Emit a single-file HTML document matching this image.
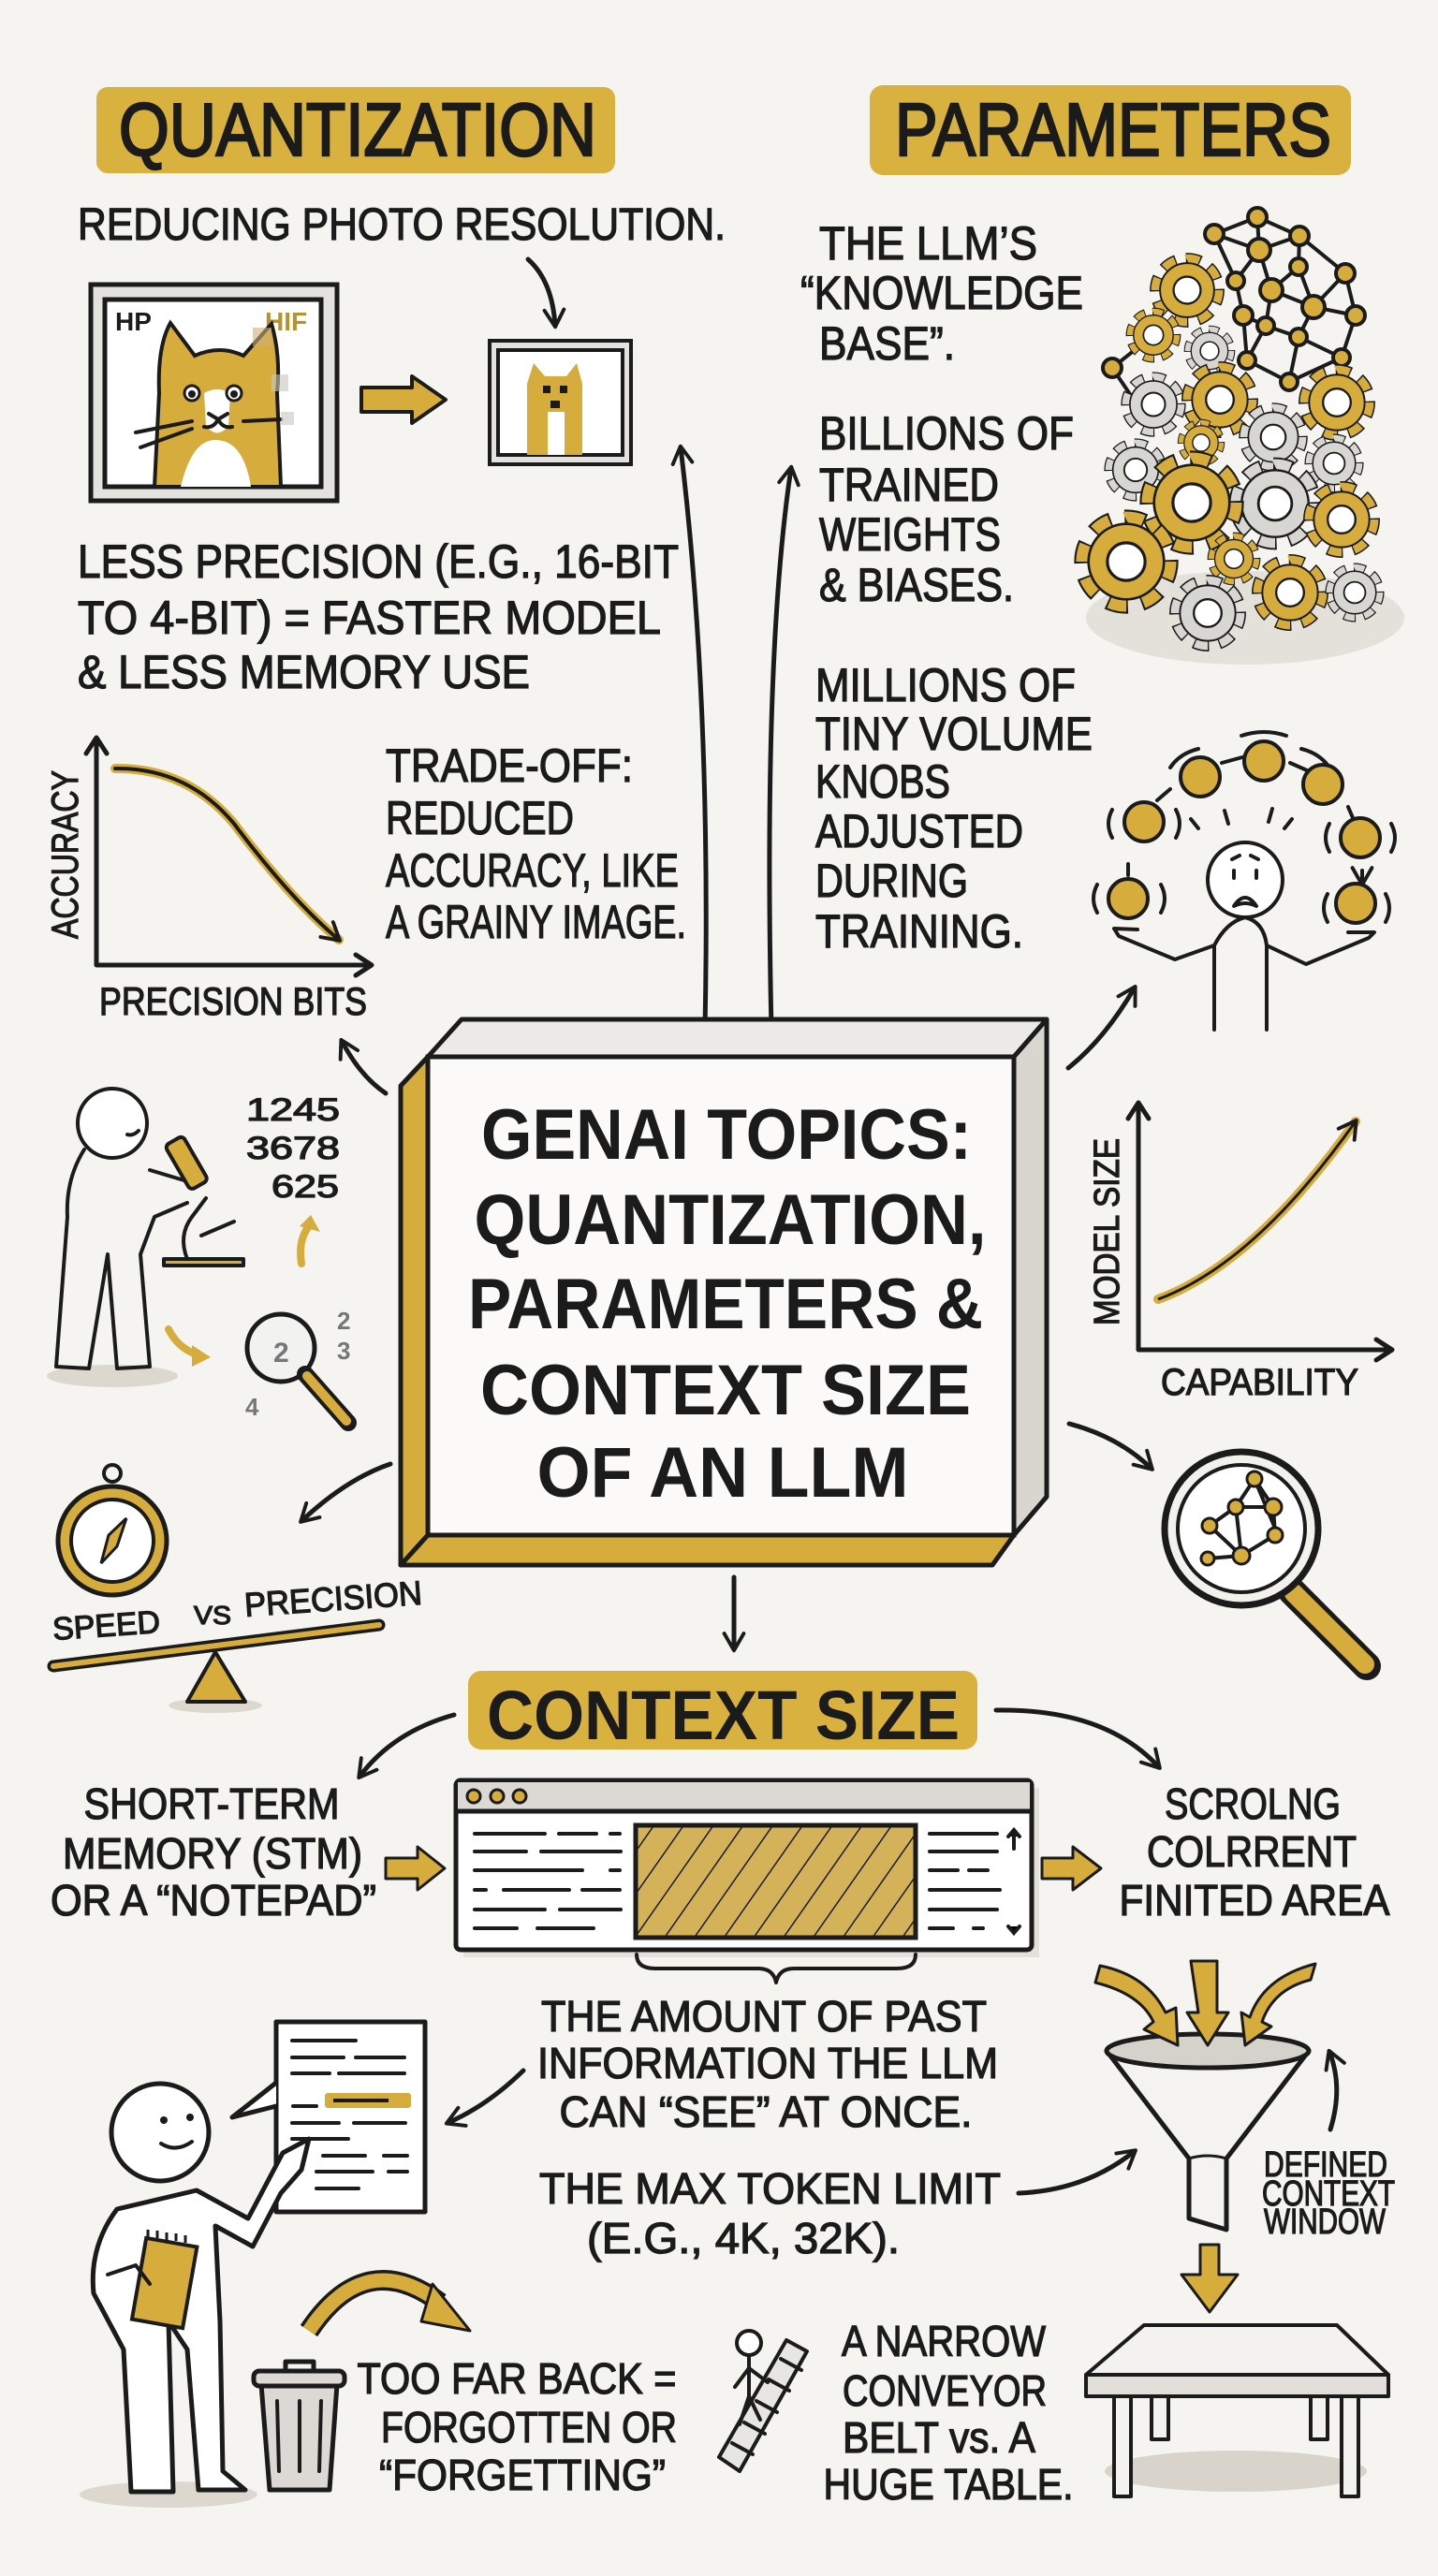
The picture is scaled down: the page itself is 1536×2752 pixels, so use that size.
<!DOCTYPE html>
<html><head><meta charset="utf-8">
<style>
html,body{margin:0;padding:0;background:#f5f4f1;}
svg{display:block}
.t{font-family:"Liberation Sans Narrow","Liberation Sans",sans-serif;font-weight:normal;fill:#1b1b1b;stroke:#1b1b1b;stroke-width:1.3px;}
.h{font-family:"Liberation Sans",sans-serif;font-weight:bold;fill:#1b1b1b;}
.k{fill:none;stroke:#1b1b1b;stroke-width:5;stroke-linecap:round;stroke-linejoin:round}
.k4{fill:none;stroke:#1b1b1b;stroke-width:4;stroke-linecap:round;stroke-linejoin:round}
</style></head>
<body>
<svg width="1536" height="2752" viewBox="0 0 1536 2752" xmlns="http://www.w3.org/2000/svg">
<defs>
<marker id="a" viewBox="0 0 20 20" refX="16" refY="10" markerWidth="26" markerHeight="26" orient="auto" markerUnits="userSpaceOnUse">
<path d="M3,2 L17,10 L3,18" fill="none" stroke="#1b1b1b" stroke-width="3" stroke-linecap="round" stroke-linejoin="round"/>
</marker>
<pattern id="hatch" patternUnits="userSpaceOnUse" width="26" height="26" patternTransform="rotate(35)">
<rect width="26" height="26" fill="#d4b25a"/>
<line x1="0" y1="0" x2="0" y2="26" stroke="#1b1b1b" stroke-width="3"/>
</pattern>
<g id="gearG">
<circle r="85" fill="none" stroke="#1b1b1b" stroke-width="40" pathLength="160" stroke-dasharray="12 8" stroke-dashoffset="1"/>
<circle r="85" fill="none" stroke="#d6ad3c" stroke-width="32" pathLength="160" stroke-dasharray="10 10"/>
<circle r="76" fill="#d6ad3c" stroke="#1b1b1b" stroke-width="5"/>
<circle r="38" fill="#fff" stroke="#1b1b1b" stroke-width="6"/>
</g>
<g id="gearS">
<circle r="85" fill="none" stroke="#1b1b1b" stroke-width="40" pathLength="160" stroke-dasharray="12 8" stroke-dashoffset="1"/>
<circle r="85" fill="none" stroke="#d8d6d2" stroke-width="32" pathLength="160" stroke-dasharray="10 10"/>
<circle r="76" fill="#d8d6d2" stroke="#1b1b1b" stroke-width="5"/>
<circle r="38" fill="#fff" stroke="#1b1b1b" stroke-width="6"/>
</g>
</defs>

<rect x="103" y="93" width="554" height="92" rx="12" fill="#d9b13f"/>
<text class="t" x="127" y="166" font-size="80" textLength="510" lengthAdjust="spacingAndGlyphs" style="stroke-width:2.5px">QUANTIZATION</text>
<rect x="929" y="91" width="514" height="96" rx="14" fill="#d9b13f"/>
<text class="t" x="956" y="166" font-size="80" textLength="466" lengthAdjust="spacingAndGlyphs" style="stroke-width:2.5px">PARAMETERS</text>

<text class="t" x="83" y="256" font-size="48" textLength="692" lengthAdjust="spacingAndGlyphs">REDUCING PHOTO RESOLUTION.</text>
<path class="k" d="M564,277 Q590,300 593,348" marker-end="url(#a)"/>

<rect x="97" y="304" width="263" height="231" fill="#e4e2de" stroke="#1b1b1b" stroke-width="5"/>
<rect x="112" y="320" width="231" height="200" fill="#fff" stroke="#1b1b1b" stroke-width="5"/>
<text class="h" x="123" y="353" font-size="28">HP</text>
<text class="h" x="283" y="353" font-size="28" style="fill:#b8922c">HIF</text>
<path d="M165,520 L170,420 Q168,370 182,345 L208,380 Q235,368 260,380 L290,346 Q300,380 296,420 L300,520 Z" fill="#d6ad3c" stroke="#1b1b1b" stroke-width="4"/>
<path d="M193,520 Q205,470 230,470 Q260,470 268,520 Z" fill="#fff"/>
<path d="M218,420 Q232,412 246,420 L244,455 Q232,470 220,455 Z" fill="#fff"/>
<circle cx="205" cy="420" r="8" fill="#fff" stroke="#1b1b1b" stroke-width="3"/>
<circle cx="250" cy="420" r="8" fill="#fff" stroke="#1b1b1b" stroke-width="3"/>
<circle cx="205" cy="421" r="4" fill="#1b1b1b"/><circle cx="250" cy="421" r="4" fill="#1b1b1b"/>
<path class="k4" d="M223,442 L233,448 L243,442 M233,448 Q228,458 218,456 M233,448 Q238,458 248,456"/>
<path class="k4" d="M145,462 L205,450 M150,478 L205,458 M260,450 L300,448"/>
<rect x="270" y="350" width="20" height="20" fill="#cbb07a" opacity=".6"/>
<rect x="290" y="400" width="18" height="18" fill="#c9c6c0" opacity=".6"/>
<rect x="300" y="440" width="14" height="14" fill="#c9c6c0" opacity=".6"/>
<path d="M386,414 L440,414 L440,402 L476,427 L440,452 L440,440 L386,440 Z" fill="#d6ad3c" stroke="#1b1b1b" stroke-width="4" stroke-linejoin="round"/>
<rect x="523" y="364" width="151" height="132" fill="#e4e2de" stroke="#1b1b1b" stroke-width="4"/>
<rect x="532" y="374" width="133" height="112" fill="#fff" stroke="#1b1b1b" stroke-width="4"/>
<path d="M563,486 L563,410 L570,388 L582,402 L605,402 L616,388 L622,410 L622,486 Z" fill="#d6ad3c"/>
<rect x="580" y="412" width="8" height="8" fill="#1b1b1b"/><rect x="598" y="412" width="8" height="8" fill="#1b1b1b"/>
<rect x="585" y="440" width="18" height="46" fill="#fff"/>
<rect x="588" y="428" width="10" height="8" fill="#1b1b1b"/>

<text class="t" x="83" y="617" font-size="50" textLength="642" lengthAdjust="spacingAndGlyphs">LESS PRECISION (E.G., 16-BIT</text>
<text class="t" x="83" y="677" font-size="50" textLength="623" lengthAdjust="spacingAndGlyphs">TO 4-BIT) = FASTER MODEL</text>
<text class="t" x="83" y="735" font-size="50" textLength="483" lengthAdjust="spacingAndGlyphs">&amp; LESS MEMORY USE</text>

<path class="k" d="M103,1031 L103,790 M92,805 L103,788 L114,805 M103,1031 L395,1031 M380,1020 L397,1031 L380,1042"/>
<path d="M123,821 Q200,820 250,880 Q310,960 362,1004" fill="none" stroke="#d6ad3c" stroke-width="10" stroke-linecap="round"/>
<path d="M123,821 Q200,820 250,880 Q310,960 362,1004" fill="none" stroke="#1b1b1b" stroke-width="4" stroke-linecap="round" marker-end="url(#a)"/>
<text class="t" x="0" y="0" font-size="40" textLength="180" lengthAdjust="spacingAndGlyphs" transform="translate(83,1003) rotate(-90)">ACCURACY</text>
<text class="t" x="106" y="1084" font-size="42" textLength="286" lengthAdjust="spacingAndGlyphs">PRECISION BITS</text>

<text class="t" x="412" y="835" font-size="50" textLength="264" lengthAdjust="spacingAndGlyphs">TRADE-OFF:</text>
<text class="t" x="412" y="891" font-size="50" textLength="201" lengthAdjust="spacingAndGlyphs">REDUCED</text>
<text class="t" x="412" y="947" font-size="50" textLength="313" lengthAdjust="spacingAndGlyphs">ACCURACY, LIKE</text>
<text class="t" x="412" y="1002" font-size="50" textLength="321" lengthAdjust="spacingAndGlyphs">A GRAINY IMAGE.</text>

<path class="k" d="M753,1100 Q760,750 727,478" marker-end="url(#a)"/>
<path class="k" d="M824,1100 Q815,700 845,500" marker-end="url(#a)"/>

<text class="t" x="875" y="277" font-size="50" textLength="233" lengthAdjust="spacingAndGlyphs">THE LLM’S</text>
<text class="t" x="855" y="330" font-size="50" textLength="302" lengthAdjust="spacingAndGlyphs">“KNOWLEDGE</text>
<text class="t" x="875" y="384" font-size="50" textLength="145" lengthAdjust="spacingAndGlyphs">BASE”.</text>
<text class="t" x="875" y="480" font-size="50" textLength="272" lengthAdjust="spacingAndGlyphs">BILLIONS OF</text>
<text class="t" x="875" y="535" font-size="50" textLength="192" lengthAdjust="spacingAndGlyphs">TRAINED</text>
<text class="t" x="875" y="588" font-size="50" textLength="194" lengthAdjust="spacingAndGlyphs">WEIGHTS</text>
<text class="t" x="875" y="642" font-size="50" textLength="208" lengthAdjust="spacingAndGlyphs">&amp; BIASES.</text>
<text class="t" x="871" y="749" font-size="50" textLength="278" lengthAdjust="spacingAndGlyphs">MILLIONS OF</text>
<text class="t" x="871" y="801" font-size="50" textLength="296" lengthAdjust="spacingAndGlyphs">TINY VOLUME</text>
<text class="t" x="871" y="852" font-size="50" textLength="144" lengthAdjust="spacingAndGlyphs">KNOBS</text>
<text class="t" x="871" y="905" font-size="50" textLength="222" lengthAdjust="spacingAndGlyphs">ADJUSTED</text>
<text class="t" x="871" y="958" font-size="50" textLength="163" lengthAdjust="spacingAndGlyphs">DURING</text>
<text class="t" x="871" y="1012" font-size="50" textLength="222" lengthAdjust="spacingAndGlyphs">TRAINING.</text>

<ellipse cx="1330" cy="660" rx="170" ry="50" fill="#dcd8d0" opacity=".7"/>
<g stroke="#1b1b1b" stroke-width="4" fill="none">
<path d="M1343,232 L1297,250 L1345,267 L1343,232 L1388,252 L1345,267 L1320,300 L1297,250 M1345,267 L1358,310 L1387,285 L1388,252 L1437,292 L1403,328 L1387,285 M1358,310 L1403,328 L1448,337 L1437,292 M1320,300 L1328,337 L1352,348 L1358,310 M1352,348 L1387,360 L1403,328 M1387,360 L1433,382 L1448,337 M1328,337 L1332,385 L1377,408 L1433,382 M1352,348 L1332,385 M1387,360 L1377,408 M1188,393 L1232,358 M1188,393 L1213,430"/>
</g>
<g fill="#d6ad3c" stroke="#1b1b1b" stroke-width="4">
<circle cx="1343" cy="232" r="10"/><circle cx="1297" cy="250" r="10"/><circle cx="1345" cy="267" r="12"/><circle cx="1388" cy="252" r="10"/><circle cx="1320" cy="300" r="9"/><circle cx="1358" cy="310" r="12"/><circle cx="1387" cy="285" r="9"/><circle cx="1437" cy="292" r="10"/><circle cx="1403" cy="328" r="12"/><circle cx="1448" cy="337" r="10"/><circle cx="1328" cy="337" r="10"/><circle cx="1352" cy="348" r="9"/><circle cx="1387" cy="360" r="9"/><circle cx="1433" cy="382" r="9"/><circle cx="1332" cy="385" r="9"/><circle cx="1377" cy="408" r="9"/><circle cx="1188" cy="393" r="10"/>
</g>
<use href="#gearG" transform="translate(1268,310) scale(.38)"/>
<use href="#gearG" transform="translate(1232,358) scale(.28)"/>
<use href="#gearS" transform="translate(1292,375) scale(.26)"/>
<use href="#gearS" transform="translate(1232,432) scale(.33)"/>
<use href="#gearG" transform="translate(1303,427) scale(.39)"/>
<use href="#gearG" transform="translate(1428,430) scale(.39)"/>
<use href="#gearS" transform="translate(1360,467) scale(.35)"/>
<use href="#gearG" transform="translate(1283,473) scale(.24)"/>
<use href="#gearS" transform="translate(1213,502) scale(.32)"/>
<use href="#gearS" transform="translate(1425,495) scale(.30)"/>
<use href="#gearS" transform="translate(1362,538) scale(.47)"/>
<use href="#gearG" transform="translate(1273,537) scale(.53)"/>
<use href="#gearG" transform="translate(1433,555) scale(.39)"/>
<use href="#gearG" transform="translate(1318,597) scale(.27)"/>
<use href="#gearG" transform="translate(1203,600) scale(.53)"/>
<use href="#gearS" transform="translate(1290,655) scale(.39)"/>
<use href="#gearG" transform="translate(1378,633) scale(.39)"/>
<use href="#gearS" transform="translate(1447,633) scale(.30)"/>

<g class="k4">
<circle cx="1330" cy="940" r="40" fill="#fff"/>
<path d="M1318,930 l0,8 M1342,930 l0,8 M1316,918 l8,-4 M1344,918 l-8,-4"/>
<path d="M1318,968 Q1330,950 1342,968 Q1330,962 1318,968 Z"/>
<path d="M1297,1100 L1297,1010 L1255,1025 L1195,1000 L1190,992 L1215,993 M1353,1100 L1353,1010 L1395,1030 L1462,1002 L1468,996 L1440,996"/>
<path d="M1297,1010 Q1310,985 1330,980 Q1350,985 1353,1010"/>
<path d="M1280,885 l-8,-10 M1372,885 l8,-10 M1312,880 l-4,-14 M1355,878 l4,-14"/>
<path d="M1205,935 l0,-12 M1236,855 l14,-12 M1305,815 l22,-6 M1378,815 l18,8 M1440,862 l6,14 M1455,930 l0,14" marker-end="url(#a)"/>
<path d="M1172,945 q-8,15 0,30 M1240,945 q8,15 0,30 M1418,955 q-8,15 0,30 M1480,955 q8,15 0,30 M1326,786 q24,-8 48,0 M1390,800 q20,5 30,20 M1188,865 q-8,15 0,30 M1256,865 q8,15 0,30 M1250,820 q10,-15 30,-20 M1420,880 q-8,15 0,30 M1486,880 q8,15 0,30"/>
</g>
<g fill="#d6ad3c" stroke="#1b1b1b" stroke-width="4">
<circle cx="1205" cy="960" r="21"/><circle cx="1222" cy="878" r="21"/><circle cx="1282" cy="830" r="21"/><circle cx="1350" cy="813" r="21"/><circle cx="1413" cy="838" r="21"/><circle cx="1453" cy="895" r="21"/><circle cx="1448" cy="965" r="21"/>
</g>
<path class="k" d="M1141,1141 Q1180,1110 1212,1055" marker-end="url(#a)"/>

<polygon points="457,1129 493,1089 1118,1089 1083,1129" fill="#eceae6" stroke="#1b1b1b" stroke-width="5" stroke-linejoin="round"/>
<polygon points="1083,1129 1118,1089 1118,1599 1083,1640" fill="#d9d6d0" stroke="#1b1b1b" stroke-width="5" stroke-linejoin="round"/>
<polygon points="457,1129 428,1160 428,1672 457,1640" fill="#d6ad3c" stroke="#1b1b1b" stroke-width="5" stroke-linejoin="round"/>
<polygon points="457,1640 428,1672 1060,1672 1083,1640" fill="#d6ad3c" stroke="#1b1b1b" stroke-width="5" stroke-linejoin="round"/>
<rect x="457" y="1129" width="626" height="511" fill="#fbfaf8" stroke="#1b1b1b" stroke-width="5"/>
<text class="h" x="776" y="1238" font-size="76" text-anchor="middle" textLength="524" lengthAdjust="spacingAndGlyphs">GENAI TOPICS:</text>
<text class="h" x="780" y="1329" font-size="76" text-anchor="middle" textLength="547" lengthAdjust="spacingAndGlyphs">QUANTIZATION,</text>
<text class="h" x="775" y="1419" font-size="76" text-anchor="middle" textLength="550" lengthAdjust="spacingAndGlyphs">PARAMETERS &amp;</text>
<text class="h" x="775" y="1511" font-size="76" text-anchor="middle" textLength="524" lengthAdjust="spacingAndGlyphs">CONTEXT SIZE</text>
<text class="h" x="772" y="1599" font-size="76" text-anchor="middle" textLength="397" lengthAdjust="spacingAndGlyphs">OF AN LLM</text>

<path class="k" d="M412,1168 Q385,1150 365,1112" marker-end="url(#a)"/>
<g class="k4">
<ellipse cx="120" cy="1470" rx="70" ry="12" fill="#dcd8d0" stroke="none"/>
<circle cx="120" cy="1200" r="37" fill="#fff"/>
<path d="M148,1208 q-6,6 -12,4"/>
<path d="M90,1228 Q70,1260 72,1300 L60,1460 L95,1462 L115,1340 L125,1462 L160,1460 L150,1340 L165,1300 L200,1285"/>
<path d="M160,1250 L200,1262"/>
<path d="M175,1345 L260,1345 L260,1352 L175,1352 Z" fill="#d6ad3c"/>
<path d="M200,1345 Q190,1320 205,1300 L220,1280" />
<rect x="188" y="1215" width="22" height="55" rx="5" fill="#d6ad3c" transform="rotate(-30 199 1242)"/>
<path d="M215,1320 L250,1305"/>
</g>
<text class="t" x="263" y="1197" font-size="34" textLength="100" lengthAdjust="spacingAndGlyphs">1245</text>
<text class="t" x="263" y="1238" font-size="34" textLength="100" lengthAdjust="spacingAndGlyphs">3678</text>
<text class="t" x="290" y="1279" font-size="34" textLength="72" lengthAdjust="spacingAndGlyphs">625</text>
<path d="M322,1350 Q318,1325 330,1310" fill="none" stroke="#d6ad3c" stroke-width="8" stroke-linecap="round"/>
<path d="M320,1310 L332,1298 L342,1316 Z" fill="#d6ad3c"/>
<path d="M180,1420 Q190,1440 210,1447" fill="none" stroke="#d6ad3c" stroke-width="8" stroke-linecap="round"/>
<path d="M205,1437 L225,1450 L205,1460 Z" fill="#d6ad3c"/>
<circle cx="300" cy="1440" r="36" fill="#f2f2f0" stroke="#1b1b1b" stroke-width="5"/>
<path d="M326,1468 L372,1520" stroke="#1b1b1b" stroke-width="18" stroke-linecap="round"/>
<path d="M328,1470 L370,1518" stroke="#d6ad3c" stroke-width="10" stroke-linecap="round"/>
<text class="h" x="292" y="1455" font-size="30" style="fill:#777">2</text>
<text class="h" x="360" y="1420" font-size="26" style="fill:#777">2</text>
<text class="h" x="360" y="1452" font-size="26" style="fill:#777">3</text>
<text class="h" x="262" y="1512" font-size="26" style="fill:#777">4</text>

<path class="k" d="M417,1564 Q370,1580 322,1625" marker-end="url(#a)"/>
<circle cx="120" cy="1574" r="9" fill="none" stroke="#1b1b1b" stroke-width="4"/>
<circle cx="120" cy="1646" r="58" fill="#d6ad3c" stroke="#1b1b1b" stroke-width="5"/>
<circle cx="120" cy="1646" r="44" fill="#fff" stroke="#1b1b1b" stroke-width="4"/>
<path d="M135,1622 L125,1652 L108,1670 L116,1640 Z" fill="#d6ad3c" stroke="#1b1b1b" stroke-width="3"/>
<text class="t" x="57" y="1752" font-size="34" textLength="115" lengthAdjust="spacingAndGlyphs" transform="rotate(-4 57 1752)">SPEED</text>
<text class="t" x="207" y="1735" font-size="28" textLength="40" lengthAdjust="spacingAndGlyphs">VS</text>
<text class="t" x="262" y="1727" font-size="36" textLength="190" lengthAdjust="spacingAndGlyphs" transform="rotate(-4 262 1727)">PRECISION</text>
<path d="M57,1780 L405,1736" stroke="#1b1b1b" stroke-width="13" stroke-linecap="round"/>
<path d="M57,1780 L405,1736" stroke="#d6ad3c" stroke-width="6" stroke-linecap="round"/>
<ellipse cx="230" cy="1822" rx="50" ry="8" fill="#dcd8d0"/>
<polygon points="230,1765 200,1818 262,1818" fill="#d6ad3c" stroke="#1b1b1b" stroke-width="4" stroke-linejoin="round"/>

<path class="k" d="M1216,1442 L1216,1180 M1205,1195 L1216,1178 L1227,1195 M1216,1442 L1485,1442 M1470,1431 L1487,1442 L1470,1453"/>
<path d="M1237,1388 Q1340,1350 1448,1198" fill="none" stroke="#d6ad3c" stroke-width="10" stroke-linecap="round"/>
<path d="M1237,1388 Q1340,1350 1448,1198" fill="none" stroke="#1b1b1b" stroke-width="3" marker-end="url(#a)"/>
<text class="t" x="0" y="0" font-size="38" textLength="200" lengthAdjust="spacingAndGlyphs" transform="translate(1195,1416) rotate(-90)">MODEL SIZE</text>
<text class="t" x="1240" y="1490" font-size="40" textLength="211" lengthAdjust="spacingAndGlyphs">CAPABILITY</text>
<path class="k" d="M1142,1521 Q1195,1535 1230,1569" marker-end="url(#a)"/>
<path d="M1380,1700 L1460,1780" stroke="#1b1b1b" stroke-width="30" stroke-linecap="round"/>
<path d="M1382,1702 L1458,1778" stroke="#d6ad3c" stroke-width="20" stroke-linecap="round"/>
<circle cx="1326" cy="1633" r="82" fill="#f2f1ee" stroke="#1b1b1b" stroke-width="7"/>
<circle cx="1326" cy="1633" r="68" fill="#fff" stroke="#1b1b1b" stroke-width="4"/>
<path class="k4" d="M1292,1630 L1320,1610 L1340,1580 L1360,1610 L1320,1610 L1326,1662 L1362,1640 L1360,1610 M1292,1630 L1326,1662 L1290,1665 M1340,1580 L1365,1640"/>
<g fill="#d6ad3c" stroke="#1b1b1b" stroke-width="3"><circle cx="1292" cy="1630" r="8"/><circle cx="1320" cy="1610" r="8"/><circle cx="1340" cy="1580" r="8"/><circle cx="1360" cy="1610" r="9"/><circle cx="1326" cy="1662" r="9"/><circle cx="1362" cy="1640" r="8"/><circle cx="1290" cy="1665" r="7"/></g>

<path class="k" d="M784,1685 L784,1762" marker-end="url(#a)"/>
<rect x="500" y="1785" width="544" height="84" rx="14" fill="#d9b13f"/>
<text class="h" x="520" y="1858" font-size="74" textLength="505" lengthAdjust="spacingAndGlyphs">CONTEXT SIZE</text>
<path class="k" d="M485,1832 Q420,1850 384,1898" marker-end="url(#a)"/>
<path class="k" d="M1064,1827 Q1180,1825 1238,1888" marker-end="url(#a)"/>

<text class="t" x="226" y="1943" font-size="46" text-anchor="middle" textLength="273" lengthAdjust="spacingAndGlyphs">SHORT-TERM</text>
<text class="t" x="227" y="1996" font-size="46" text-anchor="middle" textLength="320" lengthAdjust="spacingAndGlyphs">MEMORY (STM)</text>
<text class="t" x="228" y="2046" font-size="46" text-anchor="middle" textLength="348" lengthAdjust="spacingAndGlyphs">OR A “NOTEPAD”</text>
<path d="M412,1985 L446,1985 L446,1973 L475,1996 L446,2019 L446,2007 L412,2007 Z" fill="#d6ad3c" stroke="#1b1b1b" stroke-width="3" stroke-linejoin="round"/>

<rect x="495" y="1910" width="615" height="181" fill="#dcd8d0" opacity=".7"/>
<rect x="487" y="1902" width="615" height="181" rx="5" fill="#fff" stroke="#1b1b1b" stroke-width="5"/>
<rect x="489" y="1904" width="611" height="31" fill="#dcd9d4"/>
<line x1="487" y1="1935" x2="1102" y2="1935" stroke="#1b1b1b" stroke-width="5"/>
<g fill="#d6ad3c" stroke="#1b1b1b" stroke-width="3"><circle cx="506" cy="1919" r="7"/><circle cx="531" cy="1919" r="7"/><circle cx="555" cy="1919" r="7"/></g>
<rect x="679" y="1950" width="299" height="120" fill="url(#hatch)" stroke="#1b1b1b" stroke-width="5"/>
<g stroke="#1b1b1b" stroke-width="4" stroke-linecap="round">
<path d="M507,1959 h75 M597,1959 h40 M652,1959 h10 M507,1978 h55 M578,1978 h85 M507,1998 h115 M652,1998 h10 M507,2019 h12 M538,2019 h70 M622,2019 h40 M507,2040 h75 M598,2040 h65 M507,2060 h45 M574,2060 h60"/>
<path d="M993,1959 h72 M993,1978 h72 M993,1998 h30 M1035,1998 h20 M993,2019 h75 M993,2040 h72 M993,2060 h25 M1040,2060 h10"/>
<path d="M1083,1975 v-20 M1077,1962 l6,-7 l6,7 M1077,2058 l6,7 l6,-7"/>
</g>
<path d="M1113,1985 L1146,1985 L1146,1973 L1176,1996 L1146,2019 L1146,2007 L1113,2007 Z" fill="#d6ad3c" stroke="#1b1b1b" stroke-width="3" stroke-linejoin="round"/>
<path class="k4" d="M680,2088 Q680,2103 700,2103 L810,2103 Q826,2103 829,2118 Q832,2103 848,2103 L958,2103 Q978,2103 978,2088"/>

<text class="t" x="1338" y="1943" font-size="46" text-anchor="middle" textLength="188" lengthAdjust="spacingAndGlyphs">SCROLNG</text>
<text class="t" x="1337" y="1994" font-size="46" text-anchor="middle" textLength="224" lengthAdjust="spacingAndGlyphs">COLRRENT</text>
<text class="t" x="1340" y="2046" font-size="46" text-anchor="middle" textLength="289" lengthAdjust="spacingAndGlyphs">FINITED AREA</text>

<text class="t" x="816" y="2170" font-size="46" text-anchor="middle" textLength="476" lengthAdjust="spacingAndGlyphs">THE AMOUNT OF PAST</text>
<text class="t" x="820" y="2220" font-size="46" text-anchor="middle" textLength="492" lengthAdjust="spacingAndGlyphs">INFORMATION THE LLM</text>
<text class="t" x="818" y="2272" font-size="46" text-anchor="middle" textLength="441" lengthAdjust="spacingAndGlyphs">CAN “SEE” AT ONCE.</text>
<text class="t" x="576" y="2354" font-size="46" textLength="493" lengthAdjust="spacingAndGlyphs">THE MAX TOKEN LIMIT</text>
<text class="t" x="627" y="2407" font-size="46" textLength="334" lengthAdjust="spacingAndGlyphs">(E.G., 4K, 32K).</text>
<path class="k" d="M559,2212 Q520,2250 478,2268" marker-end="url(#a)"/>
<path class="k" d="M1088,2343 Q1160,2340 1212,2298" marker-end="url(#a)"/>

<path d="M1182,2191 L1270,2306 L1270,2370 L1310,2382 L1310,2306 L1398,2191 Z" fill="#f4f3f0" stroke="#1b1b1b" stroke-width="5" stroke-linejoin="round"/>
<ellipse cx="1290" cy="2191" rx="108" ry="18" fill="#d5d2cc" stroke="#1b1b1b" stroke-width="5"/>
<path d="M1270,2306 Q1290,2300 1310,2306" fill="none" stroke="#1b1b1b" stroke-width="3"/>
<g fill="#d6ad3c" stroke="#1b1b1b" stroke-width="3" stroke-linejoin="round">
<path d="M1175,2100 Q1225,2110 1245,2150 L1256,2145 L1258,2185 L1222,2168 L1232,2160 Q1218,2130 1170,2118 Z"/>
<path d="M1272,2095 L1300,2095 L1300,2150 L1312,2150 L1290,2185 L1268,2150 L1280,2150 Z"/>
<path d="M1400,2115 Q1360,2125 1348,2160 L1358,2165 L1330,2185 L1326,2150 L1335,2155 Q1350,2112 1405,2098 Z"/>
</g>
<path class="k" d="M1421,2275 Q1435,2230 1420,2192" marker-end="url(#a)"/>
<text class="t" x="1350" y="2325" font-size="38" textLength="132" lengthAdjust="spacingAndGlyphs">DEFINED</text>
<text class="t" x="1348" y="2356" font-size="38" textLength="142" lengthAdjust="spacingAndGlyphs">CONTEXT</text>
<text class="t" x="1350" y="2386" font-size="38" textLength="130" lengthAdjust="spacingAndGlyphs">WINDOW</text>
<path d="M1282,2398 L1302,2398 L1302,2430 L1322,2430 L1292,2470 L1262,2430 L1282,2430 Z" fill="#d6ad3c" stroke="#1b1b1b" stroke-width="3" stroke-linejoin="round"/>
<ellipse cx="1320" cy="2640" rx="140" ry="22" fill="#d8d4cc"/>
<g fill="#f3f2ef" stroke="#1b1b1b" stroke-width="4" stroke-linejoin="round">
<rect x="1230" y="2560" width="18" height="46"/><rect x="1400" y="2560" width="18" height="46"/>
<rect x="1190" y="2560" width="18" height="107"/><rect x="1433" y="2560" width="18" height="107"/>
<polygon points="1222,2484 1428,2484 1483,2537 1160,2537"/>
<rect x="1160" y="2537" width="323" height="23" fill="#e2dfda"/>
</g>

<ellipse cx="180" cy="2665" rx="95" ry="14" fill="#dcd8d0"/>
<g fill="#fff" stroke="#1b1b1b" stroke-width="5" stroke-linejoin="round" stroke-linecap="round">
<rect x="295" y="2160" width="159" height="203"/>
<path d="M295,2225 L248,2262 L295,2250"/>
</g>
<g stroke="#1b1b1b" stroke-width="4" stroke-linecap="round">
<path d="M312,2180 h68 M312,2198 h55 M380,2198 h52 M312,2215 h40 M362,2215 h70 M313,2250 h25 M312,2268 h50 M378,2268 h55 M312,2285 h60 M345,2303 h45 M410,2303 h25 M338,2320 h60 M415,2320 h20 M338,2338 h45"/>
</g>
<rect x="347" y="2236" width="92" height="16" rx="3" fill="#d6ad3c"/>
<line x1="356" y1="2244" x2="415" y2="2244" stroke="#1b1b1b" stroke-width="4"/>
<g fill="#fff" stroke="#1b1b1b" stroke-width="5" stroke-linejoin="round" stroke-linecap="round">
<path d="M140,2662 L132,2510 L100,2450 Q95,2400 125,2360 L210,2340 L265,2370 L302,2300 L330,2285 L322,2318 L300,2343 L270,2400 L230,2378 L235,2480 L238,2640 L262,2660 L212,2660 L200,2510 L180,2480 L185,2662 Z"/>
<circle cx="171" cy="2278" r="52"/>
</g>
<circle cx="175" cy="2265" r="4" fill="#1b1b1b"/><circle cx="203" cy="2262" r="4" fill="#1b1b1b"/>
<path class="k4" d="M172,2290 Q188,2300 205,2288"/>
<rect x="148" y="2395" width="55" height="88" fill="#d6ad3c" stroke="#1b1b1b" stroke-width="4" transform="rotate(10 175 2440)"/>
<path d="M158,2390 v-8 M168,2391 v-8 M178,2393 v-8 M188,2394 v-8 M198,2396 v-8" stroke="#1b1b1b" stroke-width="3"/>
<path class="k4" d="M115,2430 L145,2420 L160,2440"/>
<path d="M330,2490 Q390,2400 470,2460" fill="none" stroke="#1b1b1b" stroke-width="22" stroke-linecap="butt"/>
<path d="M330,2490 Q390,2400 470,2460" fill="none" stroke="#d6ad3c" stroke-width="15" stroke-linecap="butt"/>
<path d="M462,2440 L502,2490 L450,2480 Z" fill="#d6ad3c" stroke="#1b1b1b" stroke-width="3" stroke-linejoin="round"/>
<g fill="#dcd9d4" stroke="#1b1b1b" stroke-width="5" stroke-linejoin="round">
<path d="M279,2547 L288,2660 L352,2660 L360,2547 Z"/>
<rect x="271" y="2533" width="97" height="16" rx="6"/>
<path d="M305,2533 v-10 h30 v10" fill="none"/>
</g>
<path d="M296,2565 L298,2640 M320,2565 v75 M343,2565 L341,2640" stroke="#1b1b1b" stroke-width="4" stroke-linecap="round"/>
<text class="t" x="552" y="2557" font-size="46" text-anchor="middle" textLength="341" lengthAdjust="spacingAndGlyphs">TOO FAR BACK =</text>
<text class="t" x="565" y="2609" font-size="46" text-anchor="middle" textLength="316" lengthAdjust="spacingAndGlyphs">FORGOTTEN OR</text>
<text class="t" x="558" y="2660" font-size="46" text-anchor="middle" textLength="306" lengthAdjust="spacingAndGlyphs">“FORGETTING”</text>
<g stroke="#1b1b1b" stroke-width="4" fill="none" stroke-linecap="round" stroke-linejoin="round">
<path d="M768,2625 L840,2500 L862,2512 L790,2640 Z" fill="#e8e6e2"/>
<path d="M782,2610 l22,12 M795,2588 l22,12 M808,2565 l22,12 M821,2542 l22,12 M834,2520 l22,12"/>
<circle cx="800" cy="2503" r="13" fill="#fff"/>
<path d="M800,2516 L800,2560 L790,2590 M800,2560 L812,2585 M800,2530 L820,2545 M800,2530 L785,2550"/>
</g>
<text class="t" x="1008" y="2517" font-size="46" text-anchor="middle" textLength="218" lengthAdjust="spacingAndGlyphs">A NARROW</text>
<text class="t" x="1009" y="2570" font-size="46" text-anchor="middle" textLength="218" lengthAdjust="spacingAndGlyphs">CONVEYOR</text>
<text class="t" x="1003" y="2620" font-size="46" text-anchor="middle" textLength="206" lengthAdjust="spacingAndGlyphs">BELT vs. A</text>
<text class="t" x="1013" y="2670" font-size="46" text-anchor="middle" textLength="267" lengthAdjust="spacingAndGlyphs">HUGE TABLE.</text>
</svg>
</body></html>
